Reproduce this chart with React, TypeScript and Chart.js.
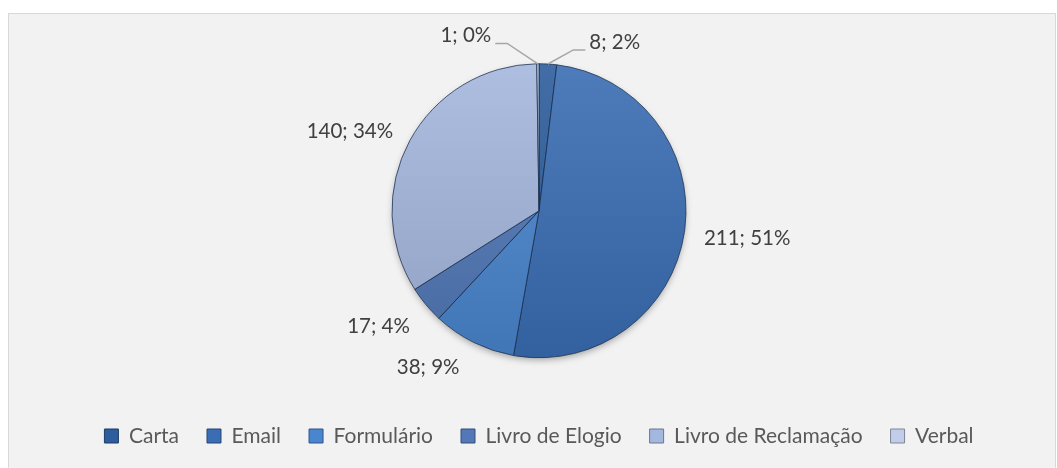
import React, { useEffect, useRef } from "react";
import { Chart, registerables } from "chart.js";

Chart.register(...registerables);

// ---- data ----
const categories = ["Carta", "Email", "Formulário", "Livro de Elogio", "Livro de Reclamação", "Verbal"];
const counts = [8, 211, 38, 17, 140, 1];

// ---- style ----
const sliceColors = ["#2d5d9c", "#3a6db3", "#4a86cf", "#5278b8", "#a4b7de", "#c2cee9"];
// per slice label placement: radial offset beyond rim (px), angle shift (deg), leader line
const labelPlacement = [
  { offset: 38, shift: 20.7, leader: true },
  { offset: 63, shift: -0.8, leader: false },
  { offset: 45, shift: 8.8, leader: false },
  { offset: 51, shift: 3.8, leader: false },
  { offset: 58, shift: -5.7, leader: false },
  { offset: 43, shift: -22.2, leader: true },
];
const FONT = "Lato, 'Open Sans', sans-serif";

function shade(hex: string, f: number): string {
  const n = parseInt(hex.slice(1), 16);
  let r = (n >> 16) & 255, g = (n >> 8) & 255, b = n & 255;
  if (f >= 0) {
    r = r + (255 - r) * f; g = g + (255 - g) * f; b = b + (255 - b) * f;
  } else {
    r = r * (1 + f); g = g * (1 + f); b = b * (1 + f);
  }
  return `rgb(${Math.round(r)},${Math.round(g)},${Math.round(b)})`;
}

const total = counts.reduce((a, b) => a + b, 0);
const percents = counts.map((c) => Math.round((c / total) * 100));

const shadowPlugin = {
  id: "pieShadow",
  beforeDatasetsDraw(chart: any) {
    const meta = chart.getDatasetMeta(0);
    const arc = meta.data[0];
    if (!arc) return;
    const { x, y, outerRadius } = arc.getProps(["x", "y", "outerRadius"], true);
    const ctx = chart.ctx;
    ctx.save();
    ctx.shadowColor = "rgba(0,0,0,0.35)";
    ctx.shadowBlur = 7;
    ctx.shadowOffsetY = 3;
    ctx.fillStyle = "#2f5c99";
    ctx.beginPath();
    ctx.arc(x, y, outerRadius - 1, 0, Math.PI * 2);
    ctx.fill();
    ctx.restore();
  },
};

const labelPlugin = {
  id: "outLabels",
  afterDatasetsDraw(chart: any) {
    const ctx = chart.ctx;
    const meta = chart.getDatasetMeta(0);
    ctx.save();
    ctx.font = `20.5px ${FONT}`;
    meta.data.forEach((arc: any, i: number) => {
      const { x, y, startAngle, endAngle, outerRadius } = arc.getProps(
        ["x", "y", "startAngle", "endAngle", "outerRadius"],
        true
      );
      const mid = (startAngle + endAngle) / 2;
      const p = labelPlacement[i];
      const a = mid + (p.shift * Math.PI) / 180;
      const d = outerRadius + p.offset;
      const tx = x + Math.cos(a) * d;
      const ty = y + Math.sin(a) * d;
      const text = `${counts[i]}; ${percents[i]}%`;
      if (p.leader) {
        const w = ctx.measureText(text).width;
        const side = Math.cos(a) >= 0 ? 1 : -1;
        const sx = x + Math.cos(mid) * outerRadius;
        const sy = y + Math.sin(mid) * outerRadius;
        const ly = ty + 8;
        const ex = tx - side * (w / 2 + 4);
        const elx = ex - side * 12;
        ctx.strokeStyle = "#a6a6a6";
        ctx.lineWidth = 1.5;
        ctx.beginPath();
        ctx.moveTo(sx, sy);
        ctx.lineTo(elx, ly);
        ctx.lineTo(ex, ly);
        ctx.stroke();
      }
      ctx.fillStyle = "#404040";
      ctx.textAlign = "center";
      ctx.textBaseline = "middle";
      ctx.fillText(text, tx, ty);
    });
    ctx.restore();
  },
};

export default function App() {
  const ref = useRef<HTMLCanvasElement | null>(null);

  useEffect(() => {
    if (!ref.current) return;
    const chart = new Chart(ref.current, {
      type: "pie",
      data: {
        labels: categories,
        datasets: [
          {
            data: counts,
            backgroundColor: (c: any) => {
              const color = sliceColors[c.dataIndex] || "#888";
              const area = c.chart.chartArea;
              if (!area) return color;
              const cy = (area.top + area.bottom) / 2;
              const g = c.chart.ctx.createLinearGradient(0, cy - 147, 0, cy + 147);
              g.addColorStop(0, shade(color, 0.1));
              g.addColorStop(1, shade(color, -0.12));
              return g;
            },
            borderColor: "rgba(25,45,75,0.75)",
            borderWidth: 1,
          },
        ],
      },
      options: {
        animation: false,
        responsive: true,
        maintainAspectRatio: false,
        radius: 147,
        layout: { padding: { top: 10, bottom: 10.5, left: 14, right: 0 } },
        plugins: {
          tooltip: { enabled: false },
          legend: {
            position: "bottom",
            labels: {
              font: { family: FONT, size: 21 },
              color: "#595959",
              boxWidth: 14,
              boxHeight: 14,
              padding: 28,
              generateLabels: () =>
                categories.map((t, i) => ({
                  text: t,
                  fillStyle: sliceColors[i],
                  strokeStyle: shade(sliceColors[i], -0.35),
                  lineWidth: 1,
                  hidden: false,
                  index: i,
                  fontColor: "#595959",
                })),
            },
          },
        },
      },
      plugins: [shadowPlugin, labelPlugin],
    });
    return () => chart.destroy();
  }, []);

  return (
    <div
      style={{
        position: "absolute",
        left: 8,
        top: 13,
        width: 1048,
        height: 455,
        boxSizing: "border-box",
        borderTop: "1px solid #d9d9d9",
        borderLeft: "1px solid #d9d9d9",
        borderRight: "1px solid #d9d9d9",
        borderBottom: "1px solid #f2f2f2",
        background: "#f2f2f2",
      }}
    >
      <canvas ref={ref} />
    </div>
  );
}
